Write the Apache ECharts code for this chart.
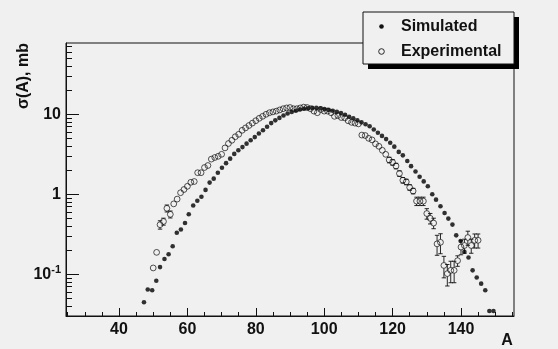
<!DOCTYPE html>
<html><head><meta charset="utf-8">
<script src="https://cdn.jsdelivr.net/npm/echarts@6.0.0/dist/echarts.min.js"></script>
<style>html,body{margin:0;padding:0;background:#eff0ef}#c{width:558px;height:349px}</style>
</head><body><div id="c"></div>
<script>
// Simulated (filled circles)
const simA = [47.3,48.4,49.7,50.9,52.0,53.3,54.5,55.7,56.9,58.1,59.3,60.4,61.7,62.9,64.1,65.3,66.5,67.7,68.9,70.1,71.3,72.5,73.7,74.9,76.1,77.3,78.5,79.7,80.9,82.1,83.3,84.5,85.7,86.9,88.1,89.3,90.5,91.7,92.9,94.1,95.3,96.5,97.7,98.9,100.1,101.3,102.5,103.7,104.9,106.1,107.3,108.5,109.7,110.9,112.1,113.3,114.5,115.7,116.9,118.1,119.3,120.5,121.8,123.0,124.3,125.4,126.7,127.9,129.1,130.3,131.6,132.7,134.0,135.2,136.3,137.5,138.6,139.9,141.0,142.2,143.4,144.6,145.9,147.1,148.3,149.5];
const simV = [0.0447,0.0646,0.0631,0.0832,0.123,0.155,0.178,0.224,0.331,0.363,0.437,0.562,0.724,0.832,0.933,1.135,1.40,1.57,1.86,2.15,2.45,2.79,3.20,3.55,3.89,4.30,4.73,5.19,5.75,6.31,7.00,7.76,8.41,9.02,9.66,10.23,10.72,11.09,11.48,11.75,11.89,12.02,12.02,11.89,11.61,11.35,11.09,10.72,10.35,9.89,9.33,8.91,8.41,7.94,7.50,7.08,6.46,5.89,5.37,4.90,4.42,3.94,3.39,3.07,2.61,2.25,1.93,1.66,1.45,1.26,1.00,0.857,0.708,0.585,0.497,0.418,0.307,0.261,0.191,0.162,0.112,0.0912,0.0764,0.0631,0.0347,0.0347];
// Experimental (open circles)
const expA = [50,51,52,53,54,55,56,57,58,59,60,61,62,63,64,65,66,67,68,69,70,71,72,73,74,75,76,77,78,79,80,81,82,83,84,85,86,87,88,89,90,91,92,93,94,95,96,97,98,99,100,101,102,103,104,105,106,107,108,109,110,111,112,113,114,115,116,117,118,119,120,121,122,123,124,125,126,127,128,129,130,131,132,133,134,135,136,137,138,139,140,141,142,143,144,145];
const expV = [0.120,0.188,0.417,0.457,0.668,0.562,0.759,0.871,1.047,1.148,1.259,1.413,1.445,1.862,1.862,2.163,2.291,2.754,2.884,2.985,3.162,3.802,4.315,4.732,5.248,5.623,6.310,6.761,7.244,7.762,8.318,8.913,9.441,10.0,10.47,10.72,10.96,11.35,11.75,12.02,12.16,11.75,11.75,12.02,12.30,12.16,11.75,10.96,10.47,11.48,10.96,10.96,10.47,9.44,9.66,9.12,9.02,8.32,7.94,7.76,7.59,5.50,5.43,5.01,4.79,4.27,3.98,3.55,3.16,2.69,2.51,2.26,1.82,1.50,1.43,1.22,1.10,0.822,0.822,0.822,0.575,0.501,0.437,0.240,0.251,0.129,0.102,0.112,0.112,0.148,0.219,0.229,0.288,0.229,0.266,0.266];
// relative errors of experimental points (0 = no visible bar)
const expErr = [0,0,0.12,0.1,0.1,0.1,0,0,0,0,0,0,0,0,0,0,0,0,0,0,0,0,0,0,0,0,0,0,0,0,0,0,0,0,0,0,0,0,0,0,0,0,0,0,0,0,0,0,0,0,0,0,0,0,0,0,0,0,0,0,0,0,0,0,0,0,0,0,0,0.08,0.08,0.08,0.08,0.08,0.08,0.08,0.08,0.12,0.12,0.12,0.15,0.15,0.15,0.28,0.28,0.3,0.3,0.3,0.3,0.15,0.2,0.2,0.2,0.2,0.2,0.2];

const xMajorTicks = [40,60,80,100,120,140];
const xMinorTicks = [25,30,35,45,50,55,65,70,75,85,90,95,105,110,115,125,130,135,145,150,155];
const yMajorTicks = [0.1,1,10];
const yMinorTicks = [0.04,0.05,0.06,0.07,0.08,0.09,0.2,0.3,0.4,0.5,0.6,0.7,0.8,0.9,2,3,4,5,6,7,8,9,20,30,40,50,60,70];

const BG = '#eff0ef';
const FONT = '"Liberation Sans", Arial, sans-serif';
const INK = '#111';

const chart = echarts.init(document.getElementById('c'), null, {renderer:'canvas'});
const xBase = {type:'value', min:24.5, max:155.5, splitLine:{show:false}};
const yBase = {type:'log', logBase:10, min:0.0301, max:77.9, splitLine:{show:false}};

chart.setOption({
  animation:false,
  backgroundColor: BG,
  grid:{left:66, top:43, width:448, height:273, show:true, borderColor:INK, borderWidth:1, backgroundColor:'transparent'},
  xAxis:[
    Object.assign({}, xBase, {
      axisLine:{show:true, lineStyle:{color:INK, width:1}},
      axisTick:{show:true, inside:true, length:8, lineStyle:{color:INK}, customValues:xMajorTicks},
      axisLabel:{show:true, margin:6, color:INK, fontSize:16, fontWeight:'bold', fontFamily:FONT, customValues:xMajorTicks}
    }),
    Object.assign({}, xBase, {
      position:'bottom',
      axisLine:{show:false},
      axisTick:{show:true, inside:true, length:4, lineStyle:{color:INK}, customValues:xMinorTicks},
      axisLabel:{show:false}
    })
  ],
  yAxis:[
    Object.assign({}, yBase, {
      axisLine:{show:true, lineStyle:{color:INK, width:1}},
      axisTick:{show:true, inside:true, length:13, lineStyle:{color:INK}, customValues:yMajorTicks},
      axisLabel:{show:true, margin:5, color:INK, fontSize:16, fontWeight:'bold', fontFamily:FONT, customValues:yMajorTicks,
        formatter:function(v){
          const e = Math.round(Math.log10(v));
          if (e === -1) return '{n|10}{s|-1}';
          if (e === 0) return '1';
          if (e === 1) return '10';
          return '';
        },
        rich:{
          n:{fontSize:16, fontWeight:'bold', fontFamily:FONT, color:INK},
          s:{fontSize:11, fontWeight:'bold', fontFamily:FONT, color:INK, padding:[0,0,9,0]}
        }
      }
    }),
    Object.assign({}, yBase, {
      position:'left',
      axisLine:{show:false},
      axisTick:{show:true, inside:true, length:6, lineStyle:{color:INK}, customValues:yMinorTicks},
      axisLabel:{show:false}
    })
  ],
  series:[
    {
      name:'Simulated', type:'scatter', xAxisIndex:0, yAxisIndex:0,
      symbol:'circle', symbolSize:4.6,
      itemStyle:{color:'#000'},
      data: simA.map((a,i)=>[a, simV[i]]),
      z:3
    },
    {
      name:'ExpErr', type:'custom', xAxisIndex:0, yAxisIndex:0, z:2,
      data: expA.map((a,i)=>[a, expV[i], expErr[i]]).filter(d=>d[2]>0),
      renderItem:function(params, api){
        const x = api.value(0), y = api.value(1), e = api.value(2);
        const c = api.coord([x, y]);
        const t = api.coord([x, y*(1+e)]);
        const b = api.coord([x, y*(1-e)]);
        const r = 2.9, w = 2.2;
        const ls = {stroke:INK, lineWidth:0.9};
        const ch = [];
        if (c[1]-t[1] > r) ch.push({type:'line', shape:{x1:c[0],y1:c[1]-r,x2:t[0],y2:t[1]}, style:ls});
        if (b[1]-c[1] > r) ch.push({type:'line', shape:{x1:c[0],y1:c[1]+r,x2:b[0],y2:b[1]}, style:ls});
        ch.push({type:'line', shape:{x1:t[0]-w,y1:t[1],x2:t[0]+w,y2:t[1]}, style:ls});
        ch.push({type:'line', shape:{x1:b[0]-w,y1:b[1],x2:b[0]+w,y2:b[1]}, style:ls});
        return {type:'group', children:ch};
      }
    },
    {
      name:'Experimental', type:'scatter', xAxisIndex:0, yAxisIndex:0,
      symbol:'circle', symbolSize:5.8,
      itemStyle:{color:'rgba(0,0,0,0)', borderColor:INK, borderWidth:0.9},
      data: expA.map((a,i)=>[a, expV[i]]),
      z:4
    }
  ],
  graphic:[
    {type:'rect', z:100, shape:{x:368, y:17, width:151, height:52}, style:{fill:'#000'}},
    {type:'rect', z:101, shape:{x:363, y:12, width:151, height:52}, style:{fill:BG, stroke:INK, lineWidth:1}},
    {type:'circle', z:102, shape:{cx:381.5, cy:26.5, r:2.3}, style:{fill:INK}},
    {type:'circle', z:102, shape:{cx:381.5, cy:51.5, r:2.8}, style:{fill:'none', stroke:INK, lineWidth:0.9}},
    {type:'text', z:102, x:401, y:26.5, style:{text:'Simulated', font:'bold 16px '+FONT, fill:INK, verticalAlign:'middle'}},
    {type:'text', z:102, x:401, y:51.5, style:{text:'Experimental', font:'bold 16px '+FONT, fill:INK, verticalAlign:'middle'}},
    {type:'text', z:102, x:24, y:43, rotation:Math.PI/2, style:{text:'σ(A), mb', font:'bold 16px '+FONT, fill:INK, align:'right', verticalAlign:'middle'}},
    {type:'text', z:102, x:507, y:341, style:{text:'A', font:'bold 16px '+FONT, fill:INK, align:'center', verticalAlign:'middle'}}
  ]
});
</script>
</body></html>
